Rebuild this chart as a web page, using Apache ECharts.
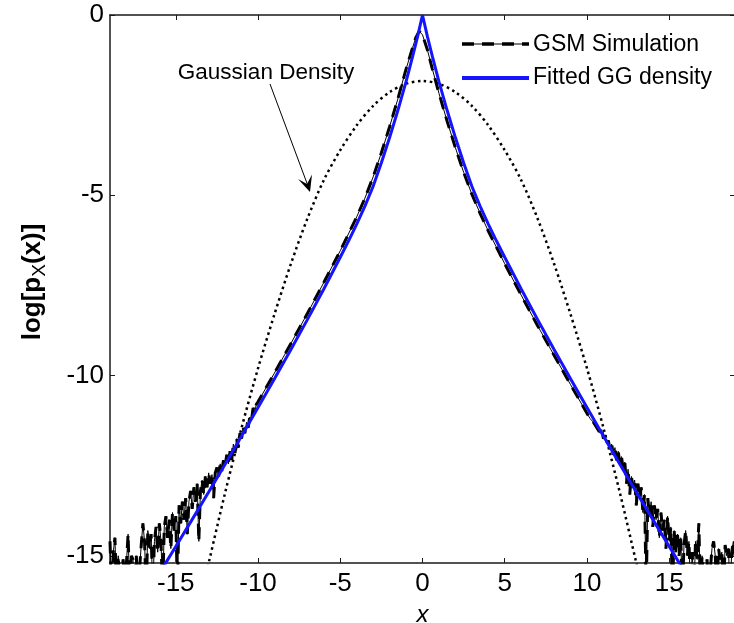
<!DOCTYPE html>
<html>
<head>
<meta charset="utf-8">
<script src="https://cdn.jsdelivr.net/npm/echarts@6/dist/echarts.min.js"></script>
<style>
html,body{margin:0;padding:0;background:#fff}
#chart{width:734px;height:623px}
</style>
</head>
<body>
<div id="chart"></div>
<script>
// Tick positions
const xTicks = [-15, -10, -5, 0, 5, 10, 15];
const yTicks = [-15, -10, -5, 0];

// Gaussian density (log scale)
const gaussX = [-13.3, -13, -12, -11, -10, -9, -8, -7, -6, -5, -4, -3, -2, -1, 0, 1, 2, 3, 4, 5, 6, 7, 8, 9, 10, 11, 12, 13, 13.3];
const gaussY = [-15.8, -15.2, -13.25, -11.45, -9.8, -8.3, -6.9, -5.65, -4.58, -3.75, -3.06, -2.52, -2.14, -1.91, -1.83, -1.91, -2.14, -2.52, -3.06, -3.75, -4.58, -5.65, -6.9, -8.3, -9.8, -11.45, -13.25, -15.2, -15.8];

// Fitted generalized Gaussian density
const ggX = [-16.2, -15.6, -15, -14, -13, -12, -11, -10, -9, -8, -7, -6, -5, -4.5, -4, -3.5, -3, -2.5, -2, -1.5, -1, -0.6, -0.3, 0,
             0.3, 0.6, 1, 1.5, 2, 2.5, 3, 3.5, 4, 4.5, 5, 6, 7, 8, 9, 10, 11, 12, 13, 14, 15, 15.6, 16.2];
const ggY = [-15.64, -15.19, -14.74, -13.99, -13.23, -12.46, -11.68, -10.89, -10.09, -9.28, -8.45, -7.6, -6.72, -6.27, -5.8, -5.3, -4.75, -4.1, -3.4, -2.65, -1.85, -1.15, -0.6, 0,
             -0.6, -1.15, -1.85, -2.65, -3.4, -4.1, -4.75, -5.3, -5.8, -6.27, -6.72, -7.6, -8.45, -9.28, -10.09, -10.89, -11.68, -12.46, -13.23, -13.99, -14.74, -15.19, -15.64];

// GSM simulation: empirical log histogram, left tail / core / right tail
const gsmLeftTail = [
  [-19.0,-14.6],[-18.9,-16],[-18.8,-14.9],[-18.7,-14.5],[-18.6,-16],[-18.5,-15.0],[-18.4,-16],[-18.3,-16],[-18.2,-15.1],[-18.1,-16],
  [-18.0,-16],[-17.9,-14.4],[-17.8,-16],[-17.7,-15.0],[-17.6,-15.1],[-17.5,-16],[-17.4,-15.0],[-17.3,-16],[-17.2,-16],[-17.1,-14.7],
  [-17.0,-14.1],[-16.9,-14.6],[-16.8,-16],[-16.7,-14.3],[-16.6,-14.8],[-16.5,-14.4],[-16.4,-16],[-16.3,-14.6],[-16.2,-14.2],[-16.1,-14.9],
  [-16.0,-14.1],[-15.9,-14.6],[-15.8,-16],[-15.7,-14.2],[-15.6,-13.9],[-15.5,-14.5],[-15.4,-14.0],[-15.3,-14.8],[-15.2,-13.8],[-15.1,-14.3],
  [-15.0,-13.9],[-14.9,-16],[-14.8,-13.6],[-14.7,-14.1],[-14.6,-13.5],[-14.5,-14.0],[-14.4,-13.4],[-14.3,-14.4],[-14.2,-13.5],[-14.1,-13.2],
  [-14.0,-13.7],[-13.9,-13.1],[-13.8,-13.5],[-13.7,-13.0],[-13.6,-14.6],[-13.5,-13.2],[-13.4,-12.9],[-13.3,-13.3],[-13.2,-12.8],[-13.1,-13.1],
  [-13.0,-12.7],[-12.9,-13.0],[-12.8,-12.75],[-12.7,-13.4],[-12.6,-12.7],[-12.5,-12.55],[-12.4,-12.8],[-12.3,-12.45],[-12.2,-12.65],[-12.1,-12.35],
  [-12.0,-12.5],[-11.9,-12.2],[-11.8,-12.45],[-11.7,-12.1],[-11.6,-12.35],[-11.5,-11.9],[-11.4,-12.15],[-11.3,-11.75],[-11.2,-12.0],[-11.1,-11.6],
  [-11.0,-11.75],[-10.9,-11.45],[-10.8,-11.6],[-10.7,-11.3],[-10.6,-11.45],[-10.5,-11.15],[-10.4,-11.25],[-10.3,-10.9],[-10.2,-11.0],[-10.1,-10.8]
];
const gsmCore = [
  [-10,-10.73],[-9,-9.93],[-8,-9.11],[-7,-8.28],[-6,-7.42],[-5,-6.54],[-4,-5.6],[-3.5,-5.08],[-3,-4.49],[-2.5,-3.82],[-2,-3.1],
  [-1.5,-2.33],[-1,-1.5],[-0.6,-0.9],[-0.4,-0.62],[-0.2,-0.45],[0,-0.55],[0.3,-0.97],[0.6,-1.5],[1,-2.17],[1.5,-2.95],[2,-3.68],
  [2.5,-4.36],[3,-4.97],[3.5,-5.5],[4,-5.99],[5,-6.9],[6,-7.77],[7,-8.62],[8,-9.44],[9,-10.25],[10,-11.05]
];
const gsmRightTail = [
  [10.1,-11.0],[10.2,-11.2],[10.3,-11.15],[10.4,-11.3],[10.5,-11.25],[10.6,-11.45],[10.7,-11.4],[10.8,-11.6],[10.9,-11.5],[11.0,-11.75],
  [11.1,-11.65],[11.2,-11.9],[11.3,-11.8],[11.4,-12.05],[11.5,-11.9],[11.6,-12.2],[11.7,-12.0],[11.8,-12.35],[11.9,-12.1],[12.0,-12.45],
  [12.1,-12.25],[12.2,-12.6],[12.3,-12.4],[12.4,-13.0],[12.5,-12.6],[12.6,-13.3],[12.7,-12.8],[12.8,-13.1],[12.9,-12.9],[13.0,-13.6],
  [13.1,-13.0],[13.2,-13.4],[13.3,-13.1],[13.4,-13.8],[13.5,-13.3],[13.6,-16],[13.7,-13.4],[13.8,-13.9],[13.9,-13.5],[14.0,-14.2],
  [14.1,-13.6],[14.2,-14.0],[14.3,-13.7],[14.4,-14.5],[14.5,-13.8],[14.6,-14.3],[14.7,-14.0],[14.8,-14.8],[14.9,-13.9],[15.0,-14.6],
  [15.1,-14.2],[15.2,-16],[15.3,-14.3],[15.4,-14.9],[15.5,-14.4],[15.6,-15.0],[15.7,-14.5],[15.8,-16],[15.9,-14.7],[16.0,-14.3],
  [16.1,-15.0],[16.2,-14.6],[16.3,-16],[16.4,-14.9],[16.5,-16],[16.6,-14.6],[16.7,-15.1],[16.8,-14.1],[16.9,-16],[17.0,-15.0],
  [17.1,-16],[17.2,-16],[17.3,-15.1],[17.4,-16],[17.5,-16],[17.6,-14.8],[17.7,-14.6],[17.8,-15.0],[17.9,-16],[18.0,-14.8],
  [18.1,-15.1],[18.2,-14.9],[18.3,-16],[18.4,-14.7],[18.5,-15.0],[18.6,-14.8],[18.7,-16],[18.8,-14.9],[18.9,-14.6],[19.0,-15.0]
];

const legendNames = ['GSM Simulation', 'Fitted GG density'];
const annotationText = 'Gaussian Density';

const FONT = 'Liberation Sans, Arial, sans-serif';
const AXIS_COLOR = '#1a1a1a';
const BLUE = '#1414ff';

const zip = (xs, ys) => xs.map((x, i) => [x, ys[i]]);
const gsmData = gsmLeftTail.concat(gsmCore, gsmRightTail);

const chart = echarts.init(document.getElementById('chart'), null, { renderer: 'canvas' });

const baseAxis = {
  type: 'value',
  axisLine: { show: true, onZero: false, lineStyle: { color: AXIS_COLOR, width: 1.5 } },
  axisTick: { show: true, inside: true, length: 5, lineStyle: { color: AXIS_COLOR, width: 1 } },
  splitLine: { show: false }
};

chart.setOption({
  animation: false,
  backgroundColor: '#fff',
  grid: { left: 110, top: 15, width: 625, height: 548, outerBoundsMode: 'none' },
  xAxis: [
    Object.assign({}, baseAxis, {
      position: 'bottom', min: -19, max: 19,
      axisTick: Object.assign({}, baseAxis.axisTick, { customValues: xTicks }),
      axisLabel: { customValues: xTicks, color: '#000', fontSize: 26, fontFamily: FONT, margin: 8 },
      name: 'x', nameLocation: 'middle', nameGap: 40,
      nameTextStyle: { color: '#000', fontSize: 24, fontStyle: 'italic', fontFamily: FONT }
    }),
    Object.assign({}, baseAxis, {
      position: 'top', min: -19, max: 19,
      axisTick: Object.assign({}, baseAxis.axisTick, { customValues: xTicks }),
      axisLabel: { show: false }
    })
  ],
  yAxis: [
    Object.assign({}, baseAxis, {
      position: 'left', min: -15.2, max: 0,
      axisTick: Object.assign({}, baseAxis.axisTick, { customValues: yTicks }),
      axisLabel: { customValues: yTicks, color: '#000', fontSize: 26, fontFamily: FONT, margin: 6 }
    }),
    Object.assign({}, baseAxis, {
      position: 'right', min: -15.2, max: 0,
      axisTick: Object.assign({}, baseAxis.axisTick, { customValues: yTicks }),
      axisLabel: { show: false }
    })
  ],
  series: [
    {
      name: legendNames[0] + ' trace', type: 'line', data: gsmData, showSymbol: false, clip: true,
      lineStyle: { color: '#000', width: 1 }, z: 2
    },
    {
      name: legendNames[0], type: 'line', data: gsmData, showSymbol: false, clip: true,
      lineStyle: { color: '#000', width: 3, type: [12, 8] }, z: 3
    },
    {
      name: annotationText, type: 'line', data: zip(gaussX, gaussY), showSymbol: false, clip: true, smooth: 0.3,
      lineStyle: { color: '#000', width: 2.5, type: [2.5, 3.5] }, z: 4
    },
    {
      name: legendNames[1], type: 'line', data: zip(ggX, ggY), showSymbol: false, clip: true,
      lineStyle: { color: BLUE, width: 3 }, z: 5
    }
  ],
  graphic: [
    // y-axis title with subscript
    {
      type: 'text', x: 33, y: 282, rotation: Math.PI / 2,
      style: {
        text: '{b|log[p}{s|X}{b|(x)]}',
        align: 'center', verticalAlign: 'middle',
        rich: {
          b: { fontSize: 26, fontWeight: 'bold', fontFamily: FONT, fill: '#000', lineHeight: 32, verticalAlign: 'middle' },
          s: { fontSize: 19, fontFamily: FONT, fill: '#000', lineHeight: 18, verticalAlign: 'bottom' }
        }
      }
    },
    // legend
    { type: 'line', shape: { x1: 462, y1: 44, x2: 529, y2: 44 }, style: { stroke: '#000', lineWidth: 1 } },
    { type: 'line', shape: { x1: 462, y1: 44, x2: 529, y2: 44 }, style: { stroke: '#000', lineWidth: 3.5, lineDash: [12, 8] } },
    { type: 'text', x: 533, y: 45, style: { text: legendNames[0], fontSize: 23, fontFamily: FONT, fill: '#000', verticalAlign: 'middle' } },
    { type: 'line', shape: { x1: 462, y1: 78, x2: 529, y2: 78 }, style: { stroke: BLUE, lineWidth: 4 } },
    { type: 'text', x: 533, y: 78, style: { text: legendNames[1], fontSize: 23, fontFamily: FONT, fill: '#000', verticalAlign: 'middle' } },
    // annotation for the Gaussian curve
    { type: 'text', x: 266, y: 73, style: { text: annotationText, fontSize: 22.5, fontFamily: FONT, fill: '#000', align: 'center', verticalAlign: 'middle' } },
    { type: 'line', shape: { x1: 270, y1: 84, x2: 308, y2: 186 }, style: { stroke: '#000', lineWidth: 1 } },
    { type: 'polygon', shape: { points: [[310, 192], [298, 179], [307, 184], [312, 174.5]] }, style: { fill: '#000' } }
  ]
});
</script>
</body>
</html>
